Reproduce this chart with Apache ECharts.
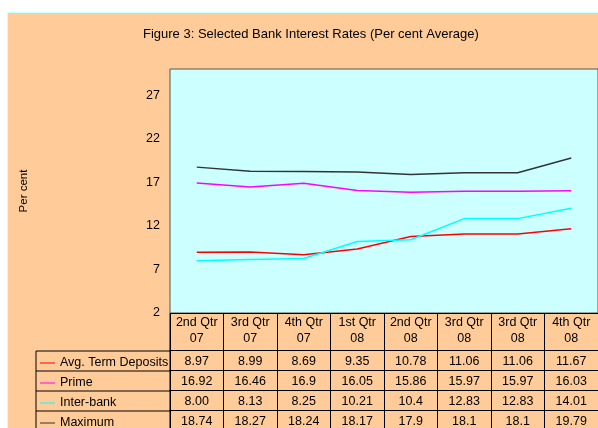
<!DOCTYPE html>
<html lang="en">
<head>
    <meta charset="utf-8">
    <script src="https://cdn.jsdelivr.net/npm/echarts@6/dist/echarts.min.js"></script>
    <style>
        body { margin: 0; background: #fff; }
    </style>
</head>
<body>
<div id="main" style="width: 598px;height:428px;"></div>
<script type="text/javascript">
    // table data, as printed under the chart
    var quarters = ['2nd Qtr\n07', '3rd Qtr\n07', '4th Qtr\n07', '1st Qtr\n08', '2nd Qtr\n08', '3rd Qtr\n08', '3rd Qtr\n08', '4th Qtr\n08'];
    var avgTerm  = ['8.97', '8.99', '8.69', '9.35', '10.78', '11.06', '11.06', '11.67'];
    var prime    = ['16.92', '16.46', '16.9', '16.05', '15.86', '15.97', '15.97', '16.03'];
    var interBank = ['8.00', '8.13', '8.25', '10.21', '10.4', '12.83', '12.83', '14.01'];
    var maximum  = ['18.74', '18.27', '18.24', '18.17', '17.9', '18.1', '18.1', '19.79'];
    var yTicks = [2, 7, 12, 17, 22, 27];

    var rows = [
        { name: 'Avg. Term Deposits', data: avgTerm, color: '#ff0000' },
        { name: 'Prime', data: prime, color: '#ff00ff' },
        { name: 'Inter-bank', data: interBank, color: '#00ffff' },
        { name: 'Maximum', data: maximum, color: '#333333' }
    ];

    var font = 'Liberation Sans, Arial, sans-serif';
    var fs = 12.5;
    var gridLeft = 170, gridTop = 69, gridH = 245, gridW = 435;
    var headH = 37, rowH = 20;

    var myChart = echarts.init(document.getElementById('main'));

    // x axes: the quarter header, then one axis per table row
    var xAxes = [{
        type: 'category',
        data: quarters,
        position: 'bottom',
        axisLine: { show: true, lineStyle: { color: '#000' } },
        axisTick: { show: true, interval: 0, length: headH, lineStyle: { color: '#000' } },
        axisLabel: { interval: 0, color: '#000', fontSize: fs, fontFamily: font, lineHeight: 16, margin: 2 }
    }];
    rows.forEach(function (r, i) {
        xAxes.push({
            type: 'category',
            data: r.data,
            position: 'bottom',
            offset: headH + i * rowH,
            axisLine: { show: true, lineStyle: { color: '#000' } },
            axisTick: { show: true, interval: 0, length: rowH, lineStyle: { color: '#000' } },
            axisLabel: { interval: 0, color: '#000', fontSize: fs, fontFamily: font, margin: 5 }
        });
    });

    // left column borders of the table
    var tableLines = [];
    for (var i = 0; i < rows.length; i++) {
        var y = gridTop + gridH + headH + i * rowH;
        tableLines.push({ type: 'line', shape: { x1: 36, y1: y, x2: gridLeft, y2: y }, style: { stroke: '#000', lineWidth: 1 } });
    }
    tableLines.push({ type: 'line', shape: { x1: 36, y1: gridTop + gridH + headH, x2: 36, y2: 428 }, style: { stroke: '#000', lineWidth: 1 } });
    tableLines.push({ type: 'line', shape: { x1: gridLeft, y1: gridTop + gridH, x2: gridLeft, y2: 428 }, style: { stroke: '#000', lineWidth: 1 } });

    var option = {
        animation: false,
        textStyle: { fontFamily: font },
        graphic: [{
            type: 'rect',
            z: -10,
            shape: { x: 7.5, y: 12.5, width: 600, height: 420 },
            style: { fill: '#ffcc99', stroke: '#ccffff', lineWidth: 1 }
        }].concat(tableLines),
        title: {
            text: 'Figure 3: Selected Bank Interest Rates (Per cent Average)',
            left: 138,
            top: 23,
            textStyle: { fontSize: 13, fontWeight: 'normal', color: '#000', fontFamily: font }
        },
        legend: {
            orient: 'vertical',
            left: 40,
            top: gridTop + gridH + headH + 2,
            height: 120,
            padding: 0,
            itemGap: 0,
            itemWidth: 15,
            itemHeight: 10,
            icon: 'path://M0,5 L15,5 L15,6 L0,6 Z',
            selectedMode: false,
            data: rows.map(function (r) { return r.name; }),
            textStyle: { fontSize: fs, color: '#000', fontFamily: font, lineHeight: rowH }
        },
        grid: {
            left: gridLeft,
            top: gridTop,
            width: gridW,
            height: gridH,
            show: true,
            backgroundColor: '#ccffff',
            borderColor: '#555',
            borderWidth: 1
        },
        xAxis: xAxes,
        yAxis: {
            type: 'value',
            min: 2,
            max: 30,
            interval: 5,
            name: 'Per cent',
            nameLocation: 'middle',
            nameGap: 140,
            nameTextStyle: { fontSize: 11.5, color: '#000', fontFamily: font },
            splitLine: { show: false },
            axisLine: { show: false },
            axisTick: { show: false },
            axisLabel: {
                color: '#000', fontSize: fs, fontFamily: font, margin: 10,
                showMaxLabel: false,
                formatter: function (v) { return yTicks.indexOf(v) >= 0 ? String(v) : ''; }
            }
        },
        series: rows.map(function (r) {
            return {
                name: r.name,
                type: 'line',
                xAxisIndex: 0,
                symbol: 'none',
                data: r.data.map(Number),
                itemStyle: { color: r.color },
                lineStyle: { color: r.color, width: 1.5 }
            };
        })
    };
    myChart.setOption(option);
</script>
</body>
</html>
